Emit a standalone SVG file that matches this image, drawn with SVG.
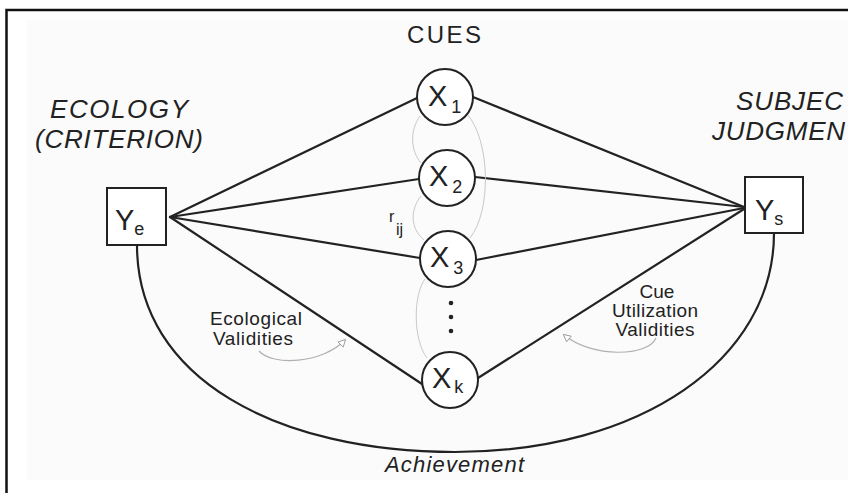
<svg xmlns="http://www.w3.org/2000/svg" width="848" height="493" viewBox="0 0 848 493">
  <style>
    text { font-family: "Liberation Sans", Arial, sans-serif; fill: #222; }
    .heading { font-size: 26px; font-style: italic; }
    .cues { font-size: 24px; }
    .var { font-size: 29px; }
    .sub { font-size: 18px; }
    .note { font-size: 19px; text-anchor: middle; }
    .link { stroke: #222; stroke-width: 2.2; fill: none; stroke-linecap: round; }
    .node { stroke: #222; stroke-width: 2; fill: #fff; }
    .corr { stroke: #c8c8c8; stroke-width: 1; fill: none; }
    .hint { stroke: #b0b0b0; stroke-width: 1.2; fill: none; marker-end: url(#openHead); }
  </style>
  <defs>
    <marker id="openHead" viewBox="0 0 10 10" refX="8" refY="5" markerWidth="9" markerHeight="9" markerUnits="userSpaceOnUse" orient="auto">
      <path d="M1,1 L9,5 L1,9 Z" fill="#fff" stroke="#999" stroke-width="1"/>
    </marker>
  </defs>

  <rect width="848" height="493" fill="#fff"/>
  <rect x="27" y="20" width="821" height="460" fill="#fbfbfb"/>
  <!-- frame -->
  <path d="M6.5,493 V10 H848" fill="none" stroke="#111" stroke-width="2.5"/>

  <!-- headings -->
  <text class="cues" x="407" y="43" textLength="74" lengthAdjust="spacing">CUES</text>
  <text class="heading" x="50" y="118" textLength="138" lengthAdjust="spacing">ECOLOGY</text>
  <text class="heading" x="35" y="148" textLength="168" lengthAdjust="spacing">(CRITERION)</text>
  <text class="heading" x="736" y="110" textLength="107" lengthAdjust="spacing">SUBJEC</text>
  <text class="heading" x="712" y="140" textLength="133" lengthAdjust="spacing">JUDGMEN</text>

  <!-- connectors -->
  <g id="connectors">
    <line class="link" x1="170" y1="217" x2="417" y2="98"/>
    <line class="link" x1="170" y1="217" x2="419" y2="179"/>
    <line class="link" x1="170" y1="217" x2="420" y2="258"/>
    <line class="link" x1="170" y1="217" x2="422" y2="384"/>
    <line class="link" x1="473" y1="97" x2="744" y2="207"/>
    <line class="link" x1="475" y1="177" x2="744" y2="207"/>
    <line class="link" x1="476" y1="260" x2="744" y2="208"/>
    <line class="link" x1="478" y1="378" x2="744" y2="209"/>
    <!-- achievement arc -->
    <path class="link" d="M137,245 C137,380 280,452 455,452 C640,452 774,360 774,233"/>
    <!-- cue intercorrelations -->
    <path class="corr" d="M420,116 C410,130 410,150 421,163"/>
    <path class="corr" d="M467,114 C490,140 492,210 470,238"/>
    <path class="corr" d="M421,196 C410,210 410,228 424,240"/>
    <path class="corr" d="M425,279 C413,295 413,340 427,358"/>
    <!-- annotation pointers -->
    <path class="hint" d="M259,351 C272,366 322,364 345,340"/>
    <path class="hint" d="M656,338 C648,357 592,358 564,335"/>
  </g>

  <!-- criterion -->
  <g id="Ye">
    <rect x="107" y="188" width="59" height="57" fill="#fff" stroke="#222" stroke-width="2"/>
    <text class="var" x="115" y="230">Y<tspan class="sub" dy="5">e</tspan></text>
  </g>

  <!-- judgment -->
  <g id="Ys">
    <rect x="745" y="177" width="58" height="56" fill="#fff" stroke="#222" stroke-width="2"/>
    <text class="var" x="755" y="220">Y<tspan class="sub" dy="5">s</tspan></text>
  </g>

  <!-- cues -->
  <g id="X1">
    <circle class="node" cx="445" cy="97" r="28"/>
    <text class="var" x="428" y="106">X<tspan class="sub" dx="4" dy="7">1</tspan></text>
  </g>
  <g id="X2">
    <circle class="node" cx="447" cy="178" r="28"/>
    <text class="var" x="429" y="186">X<tspan class="sub" dx="4" dy="7">2</tspan></text>
  </g>
  <g id="X3">
    <circle class="node" cx="448" cy="259" r="28"/>
    <text class="var" x="430" y="267">X<tspan class="sub" dx="4" dy="7">3</tspan></text>
  </g>
  <g id="ellipsis">
    <circle cx="451" cy="303" r="2.3" fill="#222"/>
    <circle cx="451" cy="317" r="2.3" fill="#222"/>
    <circle cx="451" cy="331" r="2.3" fill="#222"/>
  </g>
  <g id="Xk">
    <circle class="node" cx="450" cy="380" r="28"/>
    <text class="var" x="432" y="388">X<tspan class="sub" dx="3" dy="5">k</tspan></text>
  </g>

  <!-- labels -->
  <text x="389" y="222" style="font-size:16px">r</text>
  <text x="396" y="235" style="font-size:16px">ij</text>
  <text class="note" x="256" y="325" textLength="92" lengthAdjust="spacing">Ecological</text>
  <text class="note" x="253" y="345" textLength="80" lengthAdjust="spacing">Validities</text>
  <text class="note" x="657" y="298">Cue</text>
  <text class="note" x="655" y="317" textLength="86" lengthAdjust="spacing">Utilization</text>
  <text class="note" x="655" y="336" textLength="79" lengthAdjust="spacing">Validities</text>
  <text class="heading" x="385" y="472" style="font-size:22px" textLength="139" lengthAdjust="spacing">Achievement</text>
</svg>
